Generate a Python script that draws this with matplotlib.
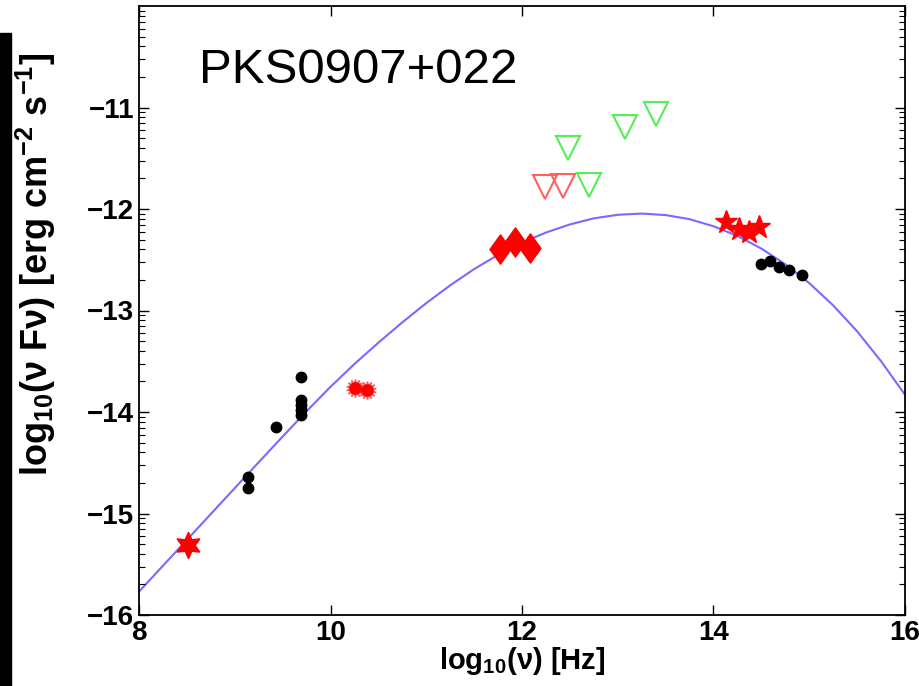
import numpy as np
import matplotlib
matplotlib.use("Agg")
import matplotlib.pyplot as plt
from matplotlib.path import Path
from matplotlib.patches import Rectangle

plt.rcParams['font.family'] = ['Liberation Sans', 'DejaVu Sans']
plt.rcParams['mathtext.fontset'] = 'custom'
plt.rcParams['mathtext.rm'] = 'Liberation Sans:bold'
plt.rcParams['mathtext.it'] = 'Liberation Sans:bold'
plt.rcParams['mathtext.bf'] = 'Liberation Sans:bold'

# model curve, every 0.25 in log nu
curve_x = [8.0, 8.25, 8.5, 8.75, 9.0, 9.25, 9.5, 9.75, 10.0, 10.25, 10.5, 10.75,
           11.0, 11.25, 11.5, 11.75, 12.0, 12.25, 12.5, 12.75, 13.0, 13.25,
           13.5, 13.75, 14.0, 14.25, 14.5, 14.75, 15.0, 15.25, 15.5, 15.75, 16.0]
curve_y = [-15.77, -15.515, -15.26, -15.005, -14.75, -14.495, -14.242, -13.992,
           -13.752, -13.527, -13.317, -13.117, -12.927, -12.752, -12.592, -12.452,
           -12.332, -12.232, -12.152, -12.092, -12.057, -12.045,
           -12.06, -12.10, -12.17, -12.265, -12.39, -12.545, -12.73, -12.95,
           -13.205, -13.50, -13.83]

# black points
dot_x = [9.14, 9.14, 9.43, 9.69, 9.69, 9.69, 9.69, 9.69,
         14.50, 14.59, 14.68, 14.79, 14.92]
dot_y = [-14.64, -14.75, -14.15, -13.66, -13.88, -13.93, -13.98, -14.03,
         -12.54, -12.51, -12.57, -12.60, -12.65]

# red 6-point star
hex_x = [8.51]
hex_y = [-15.31]

# red spiky circles
sun_x = [10.26, 10.38]
sun_y = [-13.76, -13.78]

# red diamonds
dia_x = [11.77, 11.93, 12.08]
dia_y = [-12.39, -12.33, -12.38]

# red 5-point stars
star_x = [14.13, 14.27, 14.37, 14.47]
star_y = [-12.125, -12.20, -12.23, -12.18]

# upper limits
red_lim_x = [12.24, 12.43]
red_lim_y = [-11.78, -11.77]
green_lim_x = [12.70, 12.48, 13.08, 13.40]
green_lim_y = [-11.76, -11.40, -11.19, -11.06]

fig = plt.figure(figsize=(9.2, 6.86), dpi=100)
fig.patches.append(Rectangle((0, 0), 11 / 920, 653 / 686, transform=fig.transFigure,
                             color='black', zorder=0))
ax = fig.add_axes([139 / 920, 71 / 686, 766 / 920, 609 / 686])

ax.plot(curve_x, curve_y, color='#7f66ff', lw=1.5, zorder=1)

diamond = Path([(0, 1), (0.72, 0), (0, -1), (-0.72, 0), (0, 1)],
               [Path.MOVETO, Path.LINETO, Path.LINETO, Path.LINETO, Path.CLOSEPOLY])

ax.plot(dot_x, dot_y, 'o', color='black', ms=7.5, zorder=3)
ax.plot(hex_x, hex_y, marker=(6, 1, 0), ls='none', color='red', ms=19, zorder=3)
ax.plot(sun_x, sun_y, marker=(14, 1, 0), ls='none', color='#ff5555', ms=13, zorder=3)
ax.plot(sun_x, sun_y, 'o', color='red', ms=8, zorder=3)
ax.plot(dia_x, dia_y, marker=diamond, ls='none', color='red', ms=21, zorder=3)
ax.plot(star_x, star_y, '*', color='red', ms=17, zorder=3)
ax.plot(red_lim_x, red_lim_y, 'v', mfc='none', mec='#ff6060', mew=1.5, ms=17, zorder=3)
ax.plot(green_lim_x, green_lim_y, 'v', mfc='none', mec='#55ee55', mew=1.5, ms=17, zorder=3)

ax.text(8.63, -10.76, 'PKS0907+022', fontsize=35.5, color='black')

ax.set_xlim(8, 16)
ax.set_ylim(-16, -10)
ax.set_xticks([8, 10, 12, 14, 16])
ax.set_yticks([-16, -15, -14, -13, -12, -11])
ax.set_yticklabels(['\u221216', '\u221215', '\u221214', '\u221213', '\u221212', '\u221211'])
minor = [n + np.log10(k) for n in range(-16, -10) for k in range(2, 10)]
ax.set_yticks(minor, minor=True)
ax.tick_params(which='both', direction='in', top=True, right=True)
ax.tick_params(which='major', length=7, width=1, labelsize=20)
ax.tick_params(which='minor', length=4, width=0.8)
for lab in ax.get_xticklabels() + ax.get_yticklabels():
    lab.set_fontweight('bold')
for s in ax.spines.values():
    s.set_linewidth(1.3)

ax.set_xlabel(r'log$_{10}$(ν) [Hz]', fontsize=21, fontweight='bold')
ax.set_ylabel(r'log$_{10}$(ν Fν) [erg cm$^{-2}$ s$^{-1}$]', fontsize=26,
              fontweight='bold')
ax.xaxis.set_label_coords(0.5, -0.05)
ax.yaxis.set_label_coords(-0.106, 0.575)

fig.savefig('out.png', dpi=100)
